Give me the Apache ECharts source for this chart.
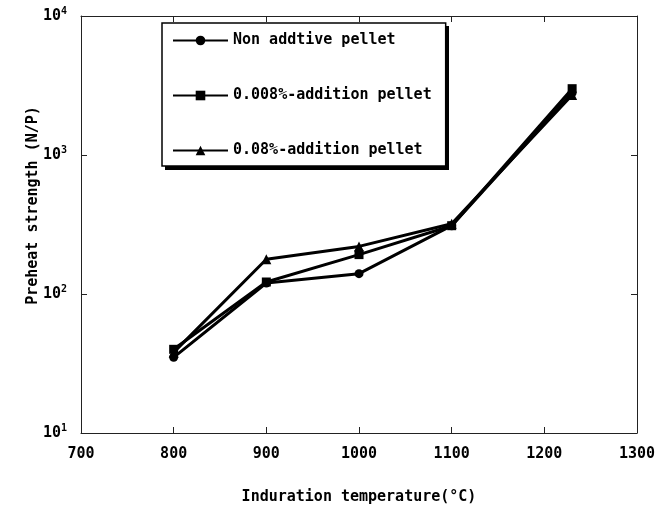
<!DOCTYPE html>
<html>
<head>
<meta charset="utf-8">
<script src="https://cdn.jsdelivr.net/npm/echarts@6/dist/echarts.min.js"></script>
<style>
  html, body { margin: 0; padding: 0; background: #fff; }
  #chart { width: 657px; height: 508px; }
</style>
</head>
<body>
<div id="chart"></div>
<script>
const FONT = '"DejaVu Sans Mono", monospace'

const temps = [800, 900, 1000, 1100, 1230]
const seriesNames = ['Non addtive pellet', '0.008%-addition pellet', '0.08%-addition pellet']
const nonAdditive = [35, 120, 140, 310, 2800]
const add0008 = [40, 122, 192, 310, 3000]
const add008 = [38, 178, 220, 320, 2700]
const symbols = ['circle', 'rect', 'triangle']

const chart = echarts.init(document.getElementById('chart'))

const mkSeries = (name, vals, symbol) => ({
  name: name,
  type: 'line',
  data: temps.map((t, i) => [t, vals[i]]),
  symbol: symbol,
  symbolSize: symbol === 'triangle' ? 10 : 9,
  lineStyle: { color: '#000', width: 3 },
  itemStyle: { color: '#000' },
  animation: false,
})

const supLabel = (v) => {
  const e = Math.round(Math.log10(v))
  return '{b|10}{s|' + e + '}'
}

const options = {
  backgroundColor: '#fff',
  grid: { left: 81, right: 20, top: 16, bottom: 75, outerBoundsMode: 'none' },
  // box shadow behind the legend
  graphic: [{
    type: 'rect',
    z: 3,
    silent: true,
    shape: { x: 165, y: 26, width: 284, height: 144 },
    style: { fill: '#000' },
  }],
  legend: {
    orient: 'vertical',
    left: 162,
    top: 23,
    z: 5,
    data: seriesNames,
    itemWidth: 55,
    itemHeight: 12,
    itemGap: 40,
    padding: [10, 14, 8, 10],
    backgroundColor: '#fff',
    borderColor: '#000',
    borderWidth: 1.5,
    textStyle: { fontFamily: FONT, fontSize: 15, fontWeight: 'bold', color: '#000' },
  },
  xAxis: [
    {
      type: 'value',
      min: 700,
      max: 1300,
      interval: 100,
      name: 'Induration temperature(°C)',
      nameLocation: 'middle',
      nameGap: 57,
      nameMoveOverlap: false,
      nameTextStyle: { fontFamily: FONT, fontSize: 15, fontWeight: 'bold', color: '#000' },
      axisLine: { lineStyle: { color: '#222', width: 1 } },
      axisTick: { inside: true, length: 6, lineStyle: { color: '#222' } },
      axisLabel: { margin: 14, formatter: (v) => String(v), fontFamily: FONT, fontSize: 15, fontWeight: 'bold', color: '#000' },
      splitLine: { show: false },
    },
    {
      type: 'value',
      position: 'top',
      min: 700,
      max: 1300,
      interval: 100,
      axisLine: { lineStyle: { color: '#222', width: 1 } },
      axisTick: { inside: true, length: 6, lineStyle: { color: '#222' } },
      axisLabel: { show: false },
      splitLine: { show: false },
    },
  ],
  yAxis: [
    {
      type: 'log',
      logBase: 10,
      min: 10,
      max: 10000,
      name: 'Preheat strength (N/P)',
      nameLocation: 'middle',
      nameGap: 40,
      nameMoveOverlap: false,
      nameTextStyle: { fontFamily: FONT, fontSize: 15, fontWeight: 'bold', color: '#000', padding: [0, 0, 0, 38] },
      axisLine: { show: true, lineStyle: { color: '#222', width: 1 } },
      axisTick: { show: true, inside: true, length: 6, lineStyle: { color: '#222' } },
      minorTick: { show: false },
      axisLabel: {
        margin: 14,
        formatter: supLabel,
        rich: {
          b: { fontFamily: FONT, fontSize: 15, fontWeight: 'bold', color: '#000' },
          s: { fontFamily: FONT, fontSize: 10, fontWeight: 'bold', color: '#000', verticalAlign: 'bottom', padding: [0, 0, 9, 0] },
        },
      },
      splitLine: { show: false },
    },
    {
      type: 'log',
      logBase: 10,
      min: 10,
      max: 10000,
      position: 'right',
      axisLine: { show: true, lineStyle: { color: '#222', width: 1 } },
      axisTick: { show: true, inside: true, length: 6, lineStyle: { color: '#222' } },
      axisLabel: { show: false },
      splitLine: { show: false },
    },
  ],
  series: [
    mkSeries(seriesNames[0], nonAdditive, symbols[0]),
    mkSeries(seriesNames[1], add0008, symbols[1]),
    mkSeries(seriesNames[2], add008, symbols[2]),
  ],
}

chart.setOption(options)
</script>
</body>
</html>
